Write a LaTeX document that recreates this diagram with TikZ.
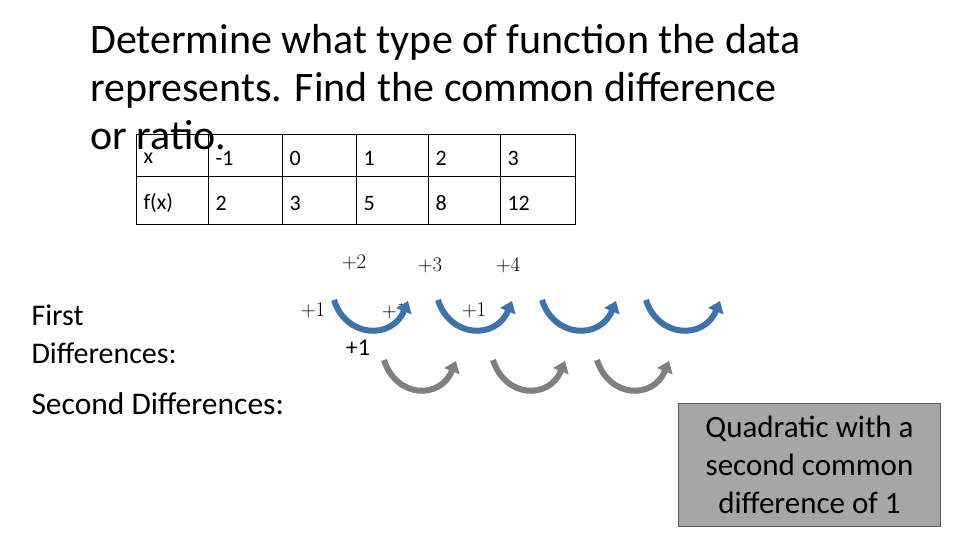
\documentclass[tikz,border=0pt]{standalone}
\usepackage{fontspec}
\setmainfont{Carlito}
\usetikzlibrary{arrows.meta}
\definecolor{blu}{RGB}{65,113,170}
\definecolor{gry}{RGB}{128,128,128}
\definecolor{boxg}{RGB}{166,166,166}
\tikzset{
 cell/.style={draw=black,line width=0.8pt,anchor=north west,inner sep=0pt},
 ctxt/.style={anchor=west,font=\fontsize{22}{24}\selectfont},
 barrow/.style={line width=6pt,-{Triangle[length=11pt,width=16pt]}},
 mth/.style={font=\fontsize{20}{22}\selectfont},
}
\begin{document}
\begin{tikzpicture}[x=1pt,y=-1pt]
\useasboundingbox (0,0) rectangle (960,540);
\node[anchor=north west,align=left,inner sep=0pt,font=\fontsize{42}{48}\selectfont] (title) at (90,24) {Determine what type of function the data\\represents. Find the common difference\\or ratio.};
\foreach \i/\xx/\w in {0/136/72,1/208/74,2/282/74,3/356/72,4/428/72,5/500/75}{
 \node[cell,minimum width=\w pt,minimum height=42pt] (r\i) at (\xx,134) {};
 \node[cell,minimum width=\w pt,minimum height=48pt] (s\i) at (\xx,176) {};
}
\foreach \i/\a/\b in {0/x/f(x),1/-1/2,2/0/3,3/1/5,4/2/8,5/3/12}{
 \node[ctxt] (ta\i) at ([xshift=4pt,yshift=-3pt]r\i.west) {\a};
 \node[ctxt] (tb\i) at ([xshift=4pt,yshift=-3pt]s\i.west) {\b};
}
\node[mth] (p2) at (354,262) {$+2$};
\node[mth] (p3) at (430,265) {$+3$};
\node[mth] (p4) at (508,265) {$+4$};
\node[mth] (q1) at (313,310) {$+1$};
\node[mth] (q2) at (394,311) {$+1$};
\node[mth] (q3) at (474,310) {$+1$};
\node[font=\fontsize{24}{26}\selectfont] (q4) at (358,348) {+1};
\node[anchor=west,align=left,font=\fontsize{30}{38}\selectfont] (fd) at (28,334) {First\\Differences:};
\node[anchor=west,font=\fontsize{31.5}{32}\selectfont] (sd) at (28,404) {Second Differences:};
\foreach \xx [count=\k] in {334,438,542,646}{
 \coordinate (ba\k) at (\xx,300);
 \coordinate (bb\k) at (\xx+74,301);
 \draw[barrow,draw=blu] (ba\k) .. controls (\xx+12,338) and (\xx+58,340) .. (bb\k);
}
\foreach \xx [count=\k] in {384,493,597}{
 \coordinate (ga\k) at (\xx,360);
 \coordinate (gb\k) at (\xx+72,361);
 \draw[barrow,draw=gry] (ga\k) .. controls (\xx+12,398) and (\xx+56,400) .. (gb\k);
}
\node[draw=gry!70!black,fill=boxg,line width=1pt,minimum width=262pt,minimum height=123pt,anchor=north west,inner sep=0pt] (box) at (678,403) {};
\node[align=center,font=\fontsize{31}{38}\selectfont] (btxt) at (box.center) {Quadratic with a\\second common\\difference of 1};
\end{tikzpicture}
\end{document}
